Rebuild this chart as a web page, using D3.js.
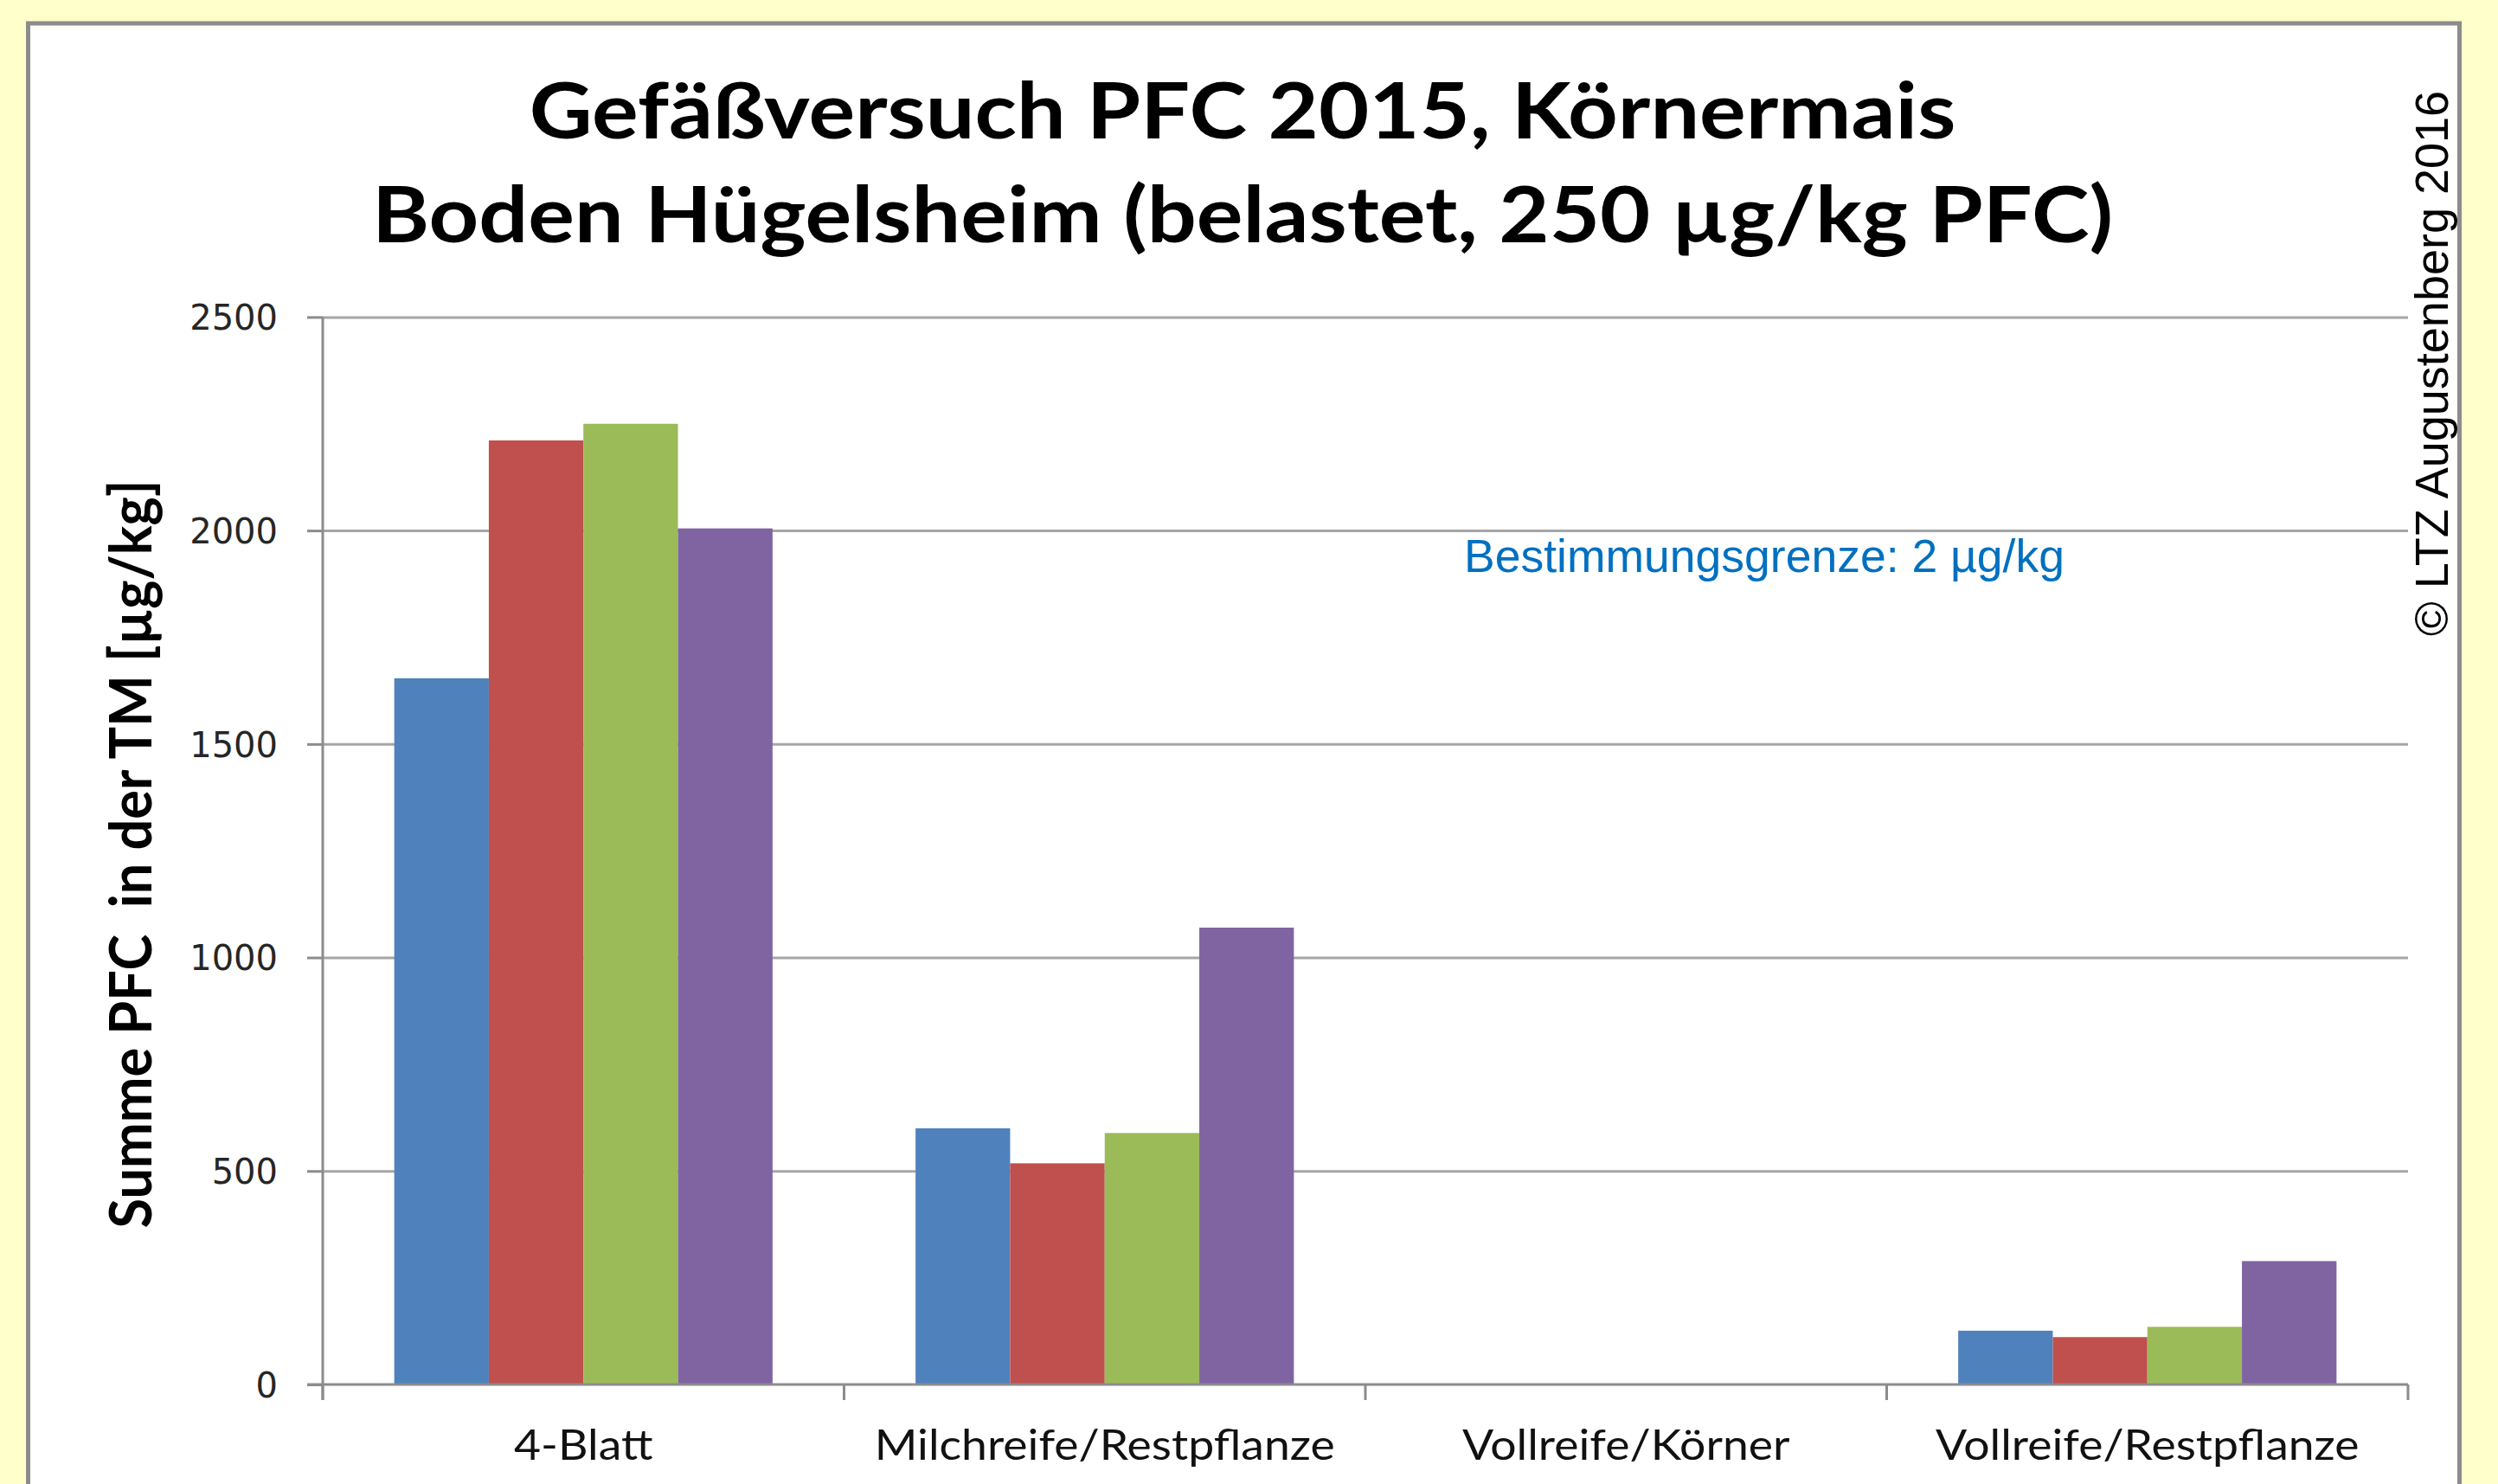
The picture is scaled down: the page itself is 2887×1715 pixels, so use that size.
<!DOCTYPE html>
<html>
<head>
<meta charset="utf-8">
<script src="https://cdn.jsdelivr.net/npm/d3@7"></script>
<style>
  html, body { margin: 0; padding: 0; background: #FFFFCC; }
  svg { display: block; }
</style>
</head>
<body>
<svg id="chart" width="2887" height="1715"></svg>
<script>
// ---- data ----
const categories = ["4-Blatt", "Milchreife/Restpflanze", "Vollreife/Körner", "Vollreife/Restpflanze"];
const seriesNames = ["Serie 1", "Serie 2", "Serie 3", "Serie 4"];
const series1 = [1654, 600, 0, 126];
const series2 = [2211, 518, 0, 111];
const series3 = [2250, 589, 0, 135];
const series4 = [2005, 1070, 0, 289];
const seriesColors = ["#4F81BD", "#C0504D", "#9BBB59", "#8064A2"];
const yTicks = [0, 500, 1000, 1500, 2000, 2500];
const titleLines = ["Gefäßversuch PFC 2015, Körnermais", "Boden Hügelsheim (belastet, 250 µg/kg PFC)"];
const yAxisTitle = "Summe PFC  in der TM [µg/kg]";
const noteText = "Bestimmungsgrenze: 2 µg/kg";
const copyrightText = "© LTZ Augustenberg 2016";

const allSeries = [series1, series2, series3, series4];

const svg = d3.select("#chart");

// horizontal stretch helper (the original's text is rendered slightly wide)
function stretch(sel, factor) {
  sel.each(function () {
    const w = this.getComputedTextLength();
    d3.select(this).attr("textLength", w * factor).attr("lengthAdjust", "spacingAndGlyphs");
  });
}

// background & frame
svg.append("rect").attr("x", 0).attr("y", 0).attr("width", 2887).attr("height", 1715).attr("fill", "#FFFFCC");
svg.append("rect").attr("x", 32.5).attr("y", 27).attr("width", 2810).attr("height", 1720)
  .attr("fill", "#FFFFFF").attr("stroke", "#8C8C8C").attr("stroke-width", 5);

const plot = { left: 373, right: 2783, top: 366.4, bottom: 1600 };

const x0 = d3.scaleBand().domain(categories).range([plot.left, plot.right]).padding(0);
const x1 = d3.scaleBand().domain(seriesNames).range([0, x0.bandwidth()]).paddingInner(0).paddingOuter(0.756);
const y = d3.scaleLinear().domain([0, 2500]).range([plot.bottom, plot.top]);

// gridlines
const grid = svg.append("g").attr("transform", `translate(${plot.left},0)`)
  .call(d3.axisLeft(y).tickValues(yTicks.filter(d => d > 0)).tickSize(-(plot.right - plot.left)).tickFormat(""));
grid.select(".domain").remove();
grid.selectAll("line").attr("stroke", "#A6A6A6").attr("stroke-width", 3);

// bars
const groups = svg.append("g").selectAll("g")
  .data(categories).join("g")
  .attr("transform", d => `translate(${x0(d)},0)`);
groups.selectAll("rect")
  .data((c, ci) => seriesNames.map((s, si) => ({ s, si, v: allSeries[si][ci] })))
  .join("rect")
  .attr("x", d => x1(d.s))
  .attr("width", x1.bandwidth())
  .attr("y", d => y(d.v))
  .attr("height", d => y(0) - y(d.v))
  .attr("fill", d => seriesColors[d.si]);

// y axis
const yAxis = svg.append("g").attr("transform", `translate(${plot.left},0)`)
  .call(d3.axisLeft(y).tickValues(yTicks).tickSize(18).tickPadding(34).tickFormat(d3.format("d")));
yAxis.select(".domain").attr("stroke", "#8C8C8C").attr("stroke-width", 3)
  .attr("d", `M0,${plot.top}V${plot.bottom + 18}`);
yAxis.selectAll(".tick line").attr("stroke", "#8C8C8C").attr("stroke-width", 3);
yAxis.selectAll(".tick text").attr("font-family", "DejaVu Sans").attr("font-size", 40)
  .attr("fill", "#262626").attr("dy", "0.36em");

// x axis
const xAxis = svg.append("g").attr("transform", `translate(0,${plot.bottom})`)
  .call(d3.axisBottom(x0).tickSize(0).tickPadding(87));
xAxis.select(".domain").attr("stroke", "#8C8C8C").attr("stroke-width", 3)
  .attr("d", `M${plot.left - 18},0H${plot.right}`);
xAxis.selectAll(".tick text").attr("font-family", "Lato").attr("font-size", 48)
  .attr("fill", "#111").attr("dy", "0");
stretch(xAxis.selectAll(".tick text"), 1.115);
const bounds = categories.map(c => x0(c)).concat([x0.range()[1]]);
xAxis.selectAll(".bound").data(bounds).join("line").attr("class", "bound")
  .attr("x1", d => d).attr("x2", d => d).attr("y1", 0).attr("y2", 18)
  .attr("stroke", "#8C8C8C").attr("stroke-width", 3);

// title
const titles = svg.append("g").selectAll("text").data(titleLines).join("text")
  .attr("x", 1436).attr("y", (d, i) => 160 + i * 120)
  .attr("text-anchor", "middle").attr("font-family", "Lato").attr("font-weight", 700)
  .attr("font-size", 89).attr("fill", "#000").text(d => d);
stretch(titles, 1.13);

// y axis title
svg.append("text")
  .attr("transform", "translate(175,987) rotate(-90)")
  .attr("text-anchor", "middle").attr("font-family", "Lato").attr("font-weight", 700)
  .attr("font-size", 66).attr("fill", "#000")
  .attr("textLength", 865).attr("lengthAdjust", "spacingAndGlyphs")
  .style("white-space", "pre")
  .text(yAxisTitle);

// note
svg.append("text").attr("x", 1692).attr("y", 661)
  .attr("font-family", "Liberation Sans").attr("font-size", 53.5).attr("fill", "#0070C0")
  .text(noteText);

// copyright
svg.append("text").attr("transform", "translate(2829,420) rotate(-90)")
  .attr("text-anchor", "middle").attr("font-family", "Liberation Sans").attr("font-size", 54)
  .attr("fill", "#000").text(copyrightText);
</script>
</body>
</html>
